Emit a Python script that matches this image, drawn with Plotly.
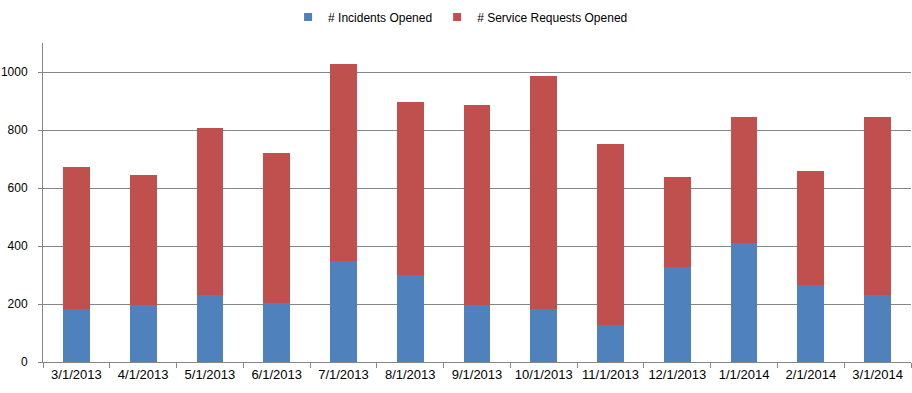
import plotly.graph_objects as go

categories = ["3/1/2013", "4/1/2013", "5/1/2013", "6/1/2013", "7/1/2013", "8/1/2013",
              "9/1/2013", "10/1/2013", "11/1/2013", "12/1/2013", "1/1/2014", "2/1/2014", "3/1/2014"]
incidents = [182, 198, 232, 202, 349, 299, 195, 184, 129, 326, 409, 264, 230]
totals = [674, 646, 808, 722, 1029, 898, 887, 987, 753, 639, 846, 660, 846]
service_requests = [t - i for t, i in zip(totals, incidents)]
series_names = ["# Incidents Opened", "# Service Requests Opened"]
series_colors = ["#4F81BD", "#C0504D"]

FONT = "Liberation Sans"
GRID = "#868686"

fig = go.Figure()
for name, vals, col in zip(series_names, [incidents, service_requests], series_colors):
    fig.add_trace(go.Bar(x=categories, y=vals, name=name, showlegend=False,
                         marker=dict(color=col, line=dict(width=0))))
# legend proxies with small square symbols
for name, col in zip(series_names, series_colors):
    fig.add_trace(go.Scatter(x=[None], y=[None], mode="markers", name=name,
                             marker=dict(symbol="square", size=8, color=col)))

fig.update_layout(
    width=912, height=393,
    barmode="stack", bargap=0.6,
    paper_bgcolor="white", plot_bgcolor="white",
    margin=dict(l=43, r=1, t=43, b=31),
    font=dict(family=FONT, size=12, color="#000000"),
    legend=dict(orientation="h", x=0.505, xanchor="center", xref="container", yref="container",
                y=1 - 17 / 393, yanchor="middle", font=dict(size=12),
                itemwidth=30, traceorder="normal"),
)
fig.update_xaxes(type="category", showgrid=False, showline=True, linecolor=GRID, linewidth=1,
                 ticks="outside", tickson="boundaries", ticklen=5, tickcolor=GRID,
                 tickfont=dict(size=13), tickangle=0, automargin=False)
fig.update_yaxes(range=[0, 1100], tickvals=[0, 200, 400, 600, 800, 1000],
                 showgrid=True, gridcolor=GRID, gridwidth=1, showline=True, linecolor=GRID,
                 ticks="outside", ticklen=4, tickcolor=GRID, zeroline=False,
                 tickfont=dict(size=12), ticklabelstandoff=8, automargin=False)

fig.write_html("out.html", config={"displayModeBar": False},
               post_script="document.body.style.margin='0';document.body.style.overflow='hidden';")
